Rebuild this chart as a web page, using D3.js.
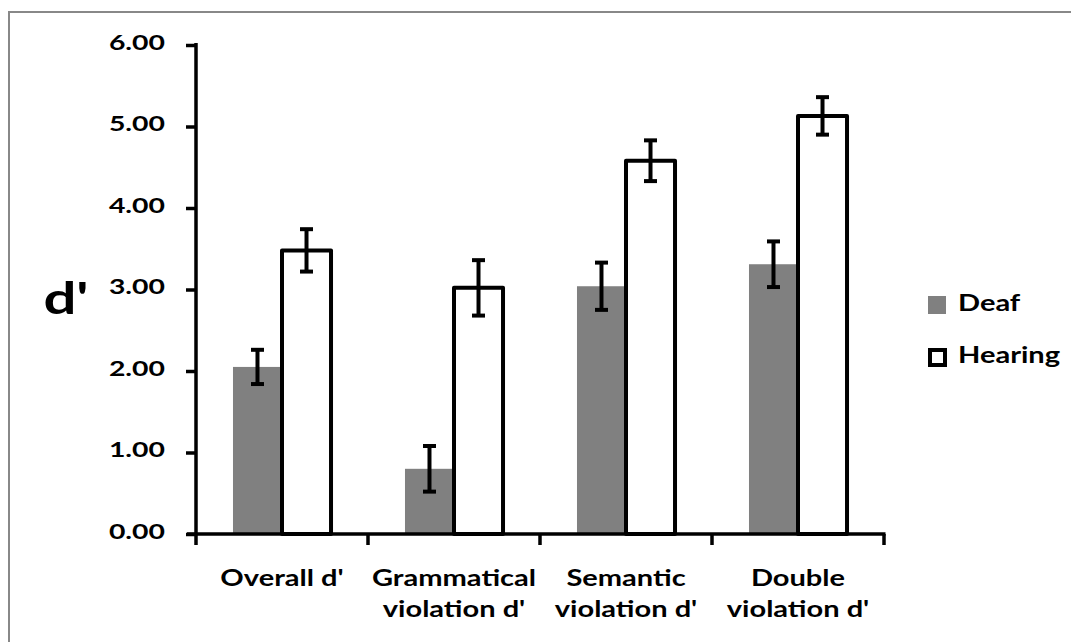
<!DOCTYPE html>
<html>
<head>
<meta charset="utf-8">
<script src="https://cdn.jsdelivr.net/npm/d3@7"></script>
<style>
  body { margin: 0; background: #fff; }
  svg { display: block; font-family: Lato, "Open Sans", sans-serif; font-weight: bold; }
</style>
</head>
<body>
<div id="chart"></div>
<script>
// data
const categories = [["Overall d'"], ["Grammatical", "violation d'"], ["Semantic", "violation d'"], ["Double", "violation d'"]]
const series = ["Deaf", "Hearing"]
const deafValues = [2.05, 0.80, 3.04, 3.31]
const deafErrors = [0.21, 0.28, 0.29, 0.28]
const hearingValues = [3.48, 3.02, 4.58, 5.13]
const hearingErrors = [0.26, 0.34, 0.25, 0.23]
const yTicks = [0, 1, 2, 3, 4, 5, 6]

const width = 1071
const height = 642
const stretch = 1.32   // the source font is set wide

const svg = d3.select("#chart")
  .append("svg")
  .attr("width", width)
  .attr("height", height)

// wide text: a group scaled on x only
const label = (parent, x, y, str, size, anchor) => {
  parent.append("g")
    .attr("transform", "translate(" + x + "," + y + ") scale(" + stretch + ",1)")
    .append("text")
    .attr("text-anchor", anchor)
    .attr("font-size", size)
    .attr("fill", "#000")
    .text(str)
}

// frame
svg.append("path")
  .attr("d", "M9,642 V12 H1071")
  .attr("fill", "none")
  .attr("stroke", "#888")
  .attr("stroke-width", 2)

const keys = categories.map(c => c.join(" "))

const x0 = d3.scaleBand()
  .domain(keys)
  .range([196, 884])

const bw = x0.bandwidth()
const x1 = d3.scaleBand()
  .domain(series)
  .range([bw * 0.215, bw * 0.785])

const y = d3.scaleLinear()
  .domain([0, 6])
  .range([534, 45])

const rows = keys.map((k, i) => ({
  key: k,
  lines: categories[i],
  values: [
    { name: "Deaf", value: deafValues[i], err: deafErrors[i] },
    { name: "Hearing", value: hearingValues[i], err: hearingErrors[i] }
  ]
}))

/* ------- BARS -------*/
const group = svg.append("g").attr("class", "bars")
  .selectAll("g")
  .data(rows)
  .join("g")
  .attr("transform", d => "translate(" + x0(d.key) + ",0)")

group.selectAll("rect")
  .data(d => d.values)
  .join("rect")
  .attr("x", d => x1(d.name))
  .attr("y", d => y(d.value))
  .attr("width", x1.bandwidth())
  .attr("height", d => y(0) - y(d.value))
  .attr("fill", d => d.name === "Deaf" ? "#808080" : "#fff")
  .attr("stroke", d => d.name === "Deaf" ? "none" : "#000")
  .attr("stroke-width", 4)
  .attr("stroke-linejoin", "round")

/* ------- ERROR BARS -------*/
const cap = 6.5
const err = group.selectAll("g.err")
  .data(d => d.values)
  .join("g")
  .attr("class", "err")
  .attr("stroke", "#000")
  .attr("stroke-width", 4)

err.append("line")
  .attr("x1", d => x1(d.name) + x1.bandwidth() / 2)
  .attr("x2", d => x1(d.name) + x1.bandwidth() / 2)
  .attr("y1", d => y(d.value + d.err))
  .attr("y2", d => y(d.value - d.err))

err.selectAll("line.cap")
  .data(d => [d.value + d.err, d.value - d.err].map(v => ({ name: d.name, v })))
  .join("line")
  .attr("class", "cap")
  .attr("x1", d => x1(d.name) + x1.bandwidth() / 2 - cap)
  .attr("x2", d => x1(d.name) + x1.bandwidth() / 2 + cap)
  .attr("y1", d => y(d.v))
  .attr("y2", d => y(d.v))

/* ------- Y AXIS -------*/
const yAxis = svg.append("g")
  .attr("transform", "translate(196,0)")
  .call(d3.axisLeft(y)
    .tickValues(yTicks)
    .tickFormat("")
    .tickSize(10)
    .tickSizeOuter(0))

yAxis.select(".domain").attr("stroke-width", 3.5).attr("d", "M0,534V43")
yAxis.selectAll(".tick line").attr("stroke-width", 3.5)

const fmt = d3.format(".2f")
yTicks.forEach(t => label(svg, 165, y(t) + 4.5, fmt(t), 21.5, "end"))

label(svg, 66, 314, "d'", 44, "middle")

/* ------- X AXIS -------*/
const xAxis = svg.append("g")
  .attr("transform", "translate(0,534)")

xAxis.append("line")
  .attr("x1", 187)
  .attr("x2", x0.range()[1] + 1.5)
  .attr("stroke", "#000")
  .attr("stroke-width", 3.5)

xAxis.selectAll("line.tick")
  .data(keys.map(k => x0(k)).concat([x0.range()[1]]))
  .join("line")
  .attr("class", "tick")
  .attr("x1", d => d)
  .attr("x2", d => d)
  .attr("y1", 0)
  .attr("y2", 11)
  .attr("stroke", "#000")
  .attr("stroke-width", 3.5)

rows.forEach(r => {
  r.lines.forEach((l, i) => label(xAxis, x0(r.key) + bw / 2, 52 + i * 31, l, 22, "middle"))
})

/* ------- LEGEND -------*/
const legend = svg.append("g").attr("class", "legend")
  .selectAll("g")
  .data(series)
  .join("g")
  .attr("transform", (d, i) => "translate(928," + (296 + i * 52) + ")")

legend.append("rect")
  .attr("x", d => d === "Deaf" ? 0 : 2)
  .attr("y", d => d === "Deaf" ? 0 : 2)
  .attr("width", d => d === "Deaf" ? 18 : 15)
  .attr("height", d => d === "Deaf" ? 18 : 15)
  .attr("fill", d => d === "Deaf" ? "#808080" : "#fff")
  .attr("stroke", d => d === "Deaf" ? "none" : "#000")
  .attr("stroke-width", 4)

legend.each(function (d) {
  label(d3.select(this), 30, 15, d, 22, "start")
})
</script>
</body>
</html>
